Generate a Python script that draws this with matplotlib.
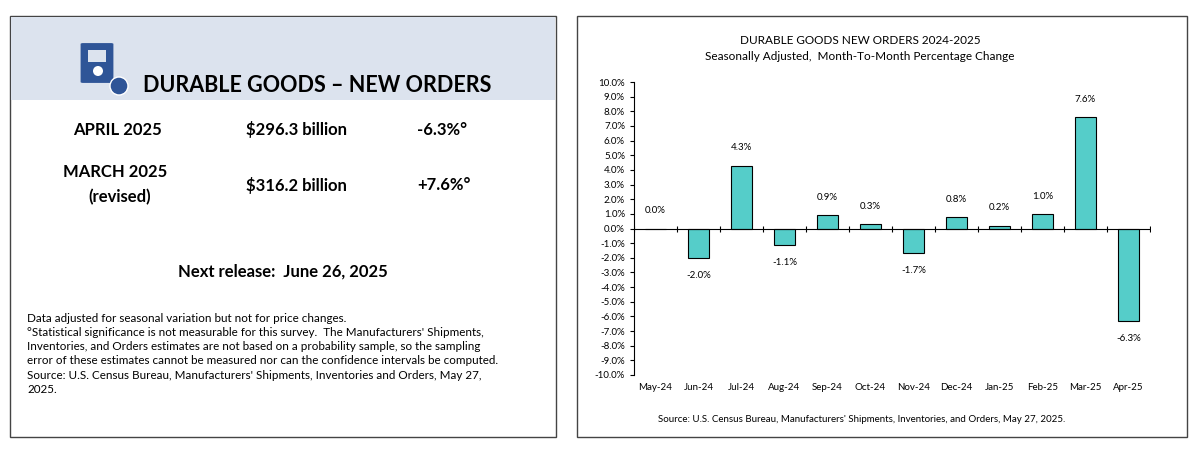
import numpy as np
import matplotlib.pyplot as plt
from matplotlib.patches import Rectangle, FancyBboxPatch, Ellipse

plt.rcParams['font.family'] = 'Lato'

months = ['May-24', 'Jun-24', 'Jul-24', 'Aug-24', 'Sep-24', 'Oct-24', 'Nov-24',
          'Dec-24', 'Jan-25', 'Feb-25', 'Mar-25', 'Apr-25']
pct_change = [0.0, -2.0, 4.3, -1.1, 0.9, 0.3, -1.7, 0.8, 0.2, 1.0, 7.6, -6.3]
y_ticks = np.arange(-10, 11, 1)

W, H = 1201, 459
fig = plt.figure(figsize=(W / 100, H / 100), dpi=100)

def fx(x):
    return x / W

def fy(y):
    return 1 - y / H

def add(p):
    p.set_zorder(-1)
    fig.patches.append(p)

# ---- left panel
add(Rectangle((fx(10), fy(437)), fx(546), (437 - 16) / H, transform=fig.transFigure,
              fc='white', ec='#444444', lw=1))
add(Rectangle((fx(11), fy(100)), fx(544), (100 - 17) / H, transform=fig.transFigure,
              fc='#dce3ee', ec='none'))
# icon
add(FancyBboxPatch((fx(83), fy(82)), fx(28), 38 / H, boxstyle='round,pad=0.002',
                   transform=fig.transFigure, fc='#2f5597', ec='none'))
add(Rectangle((fx(88), fy(62)), fx(18), 12 / H, transform=fig.transFigure,
              fc='#dce3ee', ec='none'))
add(Ellipse((fx(98), fy(71)), fx(10), 10 / H, transform=fig.transFigure, fc='white', ec='none'))
add(Ellipse((fx(119), fy(86)), fx(18), 18 / H, transform=fig.transFigure, fc='#2f5597', ec='white', lw=1))

fig.text(fx(143), fy(86), 'DURABLE GOODS – NEW ORDERS', fontsize=15.5, fontweight='bold', va='center')
fig.text(fx(73), fy(130), 'APRIL 2025', fontsize=12, fontweight='bold', va='center')
fig.text(fx(246), fy(130), '$296.3 billion', fontsize=12, fontweight='bold', va='center')
fig.text(fx(417), fy(130), '-6.3%°', fontsize=12, fontweight='bold', va='center')
fig.text(fx(115), fy(172), 'MARCH 2025', fontsize=12, fontweight='bold', va='center', ha='center')
fig.text(fx(120), fy(197), '(revised)', fontsize=12, fontweight='bold', va='center', ha='center')
fig.text(fx(246), fy(185), '$316.2 billion', fontsize=12, fontweight='bold', va='center')
fig.text(fx(417), fy(185), '+7.6%°', fontsize=12, fontweight='bold', va='center')
fig.text(fx(283), fy(272), 'Next release:  June 26, 2025', fontsize=12, fontweight='bold',
         va='center', ha='center')
notes = ("Data adjusted for seasonal variation but not for price changes.\n"
         "°Statistical significance is not measurable for this survey.  The Manufacturers' Shipments,\n"
         "Inventories, and Orders estimates are not based on a probability sample, so the sampling\n"
         "error of these estimates cannot be measured nor can the confidence intervals be computed.\n"
         "Source: U.S. Census Bureau, Manufacturers' Shipments, Inventories and Orders, May 27,\n"
         "2025.")
fig.text(fx(27), fy(313), notes, fontsize=8.4, va='top', linespacing=1.35)

# ---- right panel
add(Rectangle((fx(577), fy(437)), fx(610), (437 - 16) / H, transform=fig.transFigure,
              fc='white', ec='#444444', lw=1))
fig.text(fx(860), fy(40), 'DURABLE GOODS NEW ORDERS 2024-2025', fontsize=8.5, ha='center', va='center')
fig.text(fx(860), fy(57), 'Seasonally Adjusted,  Month-To-Month Percentage Change', fontsize=8.5,
         ha='center', va='center')
fig.text(fx(862), fy(420), "Source: U.S. Census Bureau, Manufacturers' Shipments, Inventories, and Orders, May 27, 2025.",
         fontsize=7, ha='center', va='center')

ax = fig.add_axes([fx(634), fy(375), fx(1150 - 634), (375 - 82) / H])
ax.set_zorder(5)
ax.patch.set_visible(False)
x = np.arange(len(months))
ax.bar(x, pct_change, width=0.5, color='#55cdc9', edgecolor='black', linewidth=0.8, zorder=2)
ax.set_xlim(-0.5, len(months) - 0.5)
ax.set_ylim(-10, 10)
ax.set_yticks(y_ticks)
ax.set_yticklabels([f'{v:.1f}%' for v in y_ticks], fontsize=7)
ax.tick_params(axis='y', length=3)
ax.set_xticks(x)
ax.set_xticklabels(months, fontsize=7)
ax.tick_params(axis='x', length=0, pad=6)
for s in ['top', 'right', 'bottom']:
    ax.spines[s].set_visible(False)
ax.axhline(0, color='black', lw=0.8, zorder=3)
bounds = np.arange(len(months) + 1) - 0.5
ax.plot(bounds, np.zeros_like(bounds), ls='none', marker='|', color='black', ms=5, mew=0.8, zorder=3)
for xi, v in zip(x, pct_change):
    if v >= 0:
        ax.text(xi, v + 1.2, f'{v:.1f}%', ha='center', va='center', fontsize=7)
    else:
        ax.text(xi, v - 1.2, f'{v:.1f}%', ha='center', va='center', fontsize=7)

fig.savefig('out.png', dpi=100)
